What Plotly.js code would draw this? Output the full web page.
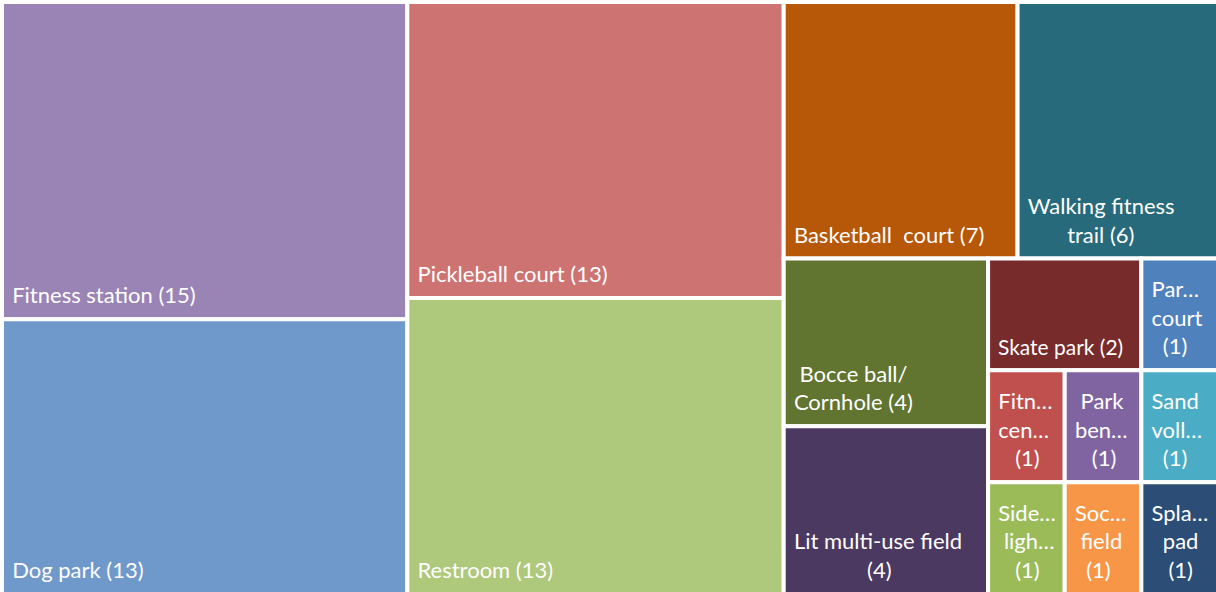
<!DOCTYPE html>
<html>
<head>
<meta charset="utf-8">
<script src="https://cdn.plot.ly/plotly-3.0.1.min.js"></script>
<style>html,body{margin:0;padding:0;background:#fff;overflow:hidden}#chart{width:1216px;height:592px;overflow:hidden}</style>
</head>
<body>
<div id="chart"></div>
<script>
// Amenity names (full), the wording shown in each tile (lines), and counts
const names = ["Fitness station", "Dog park", "Pickleball court", "Restroom", "Basketball court",
  "Walking fitness trail", "Bocce ball/Cornhole", "Lit multi-use field", "Skate park",
  "Parkour court", "Fitness center", "Sidewalk lighting", "Park bench", "Sand volleyball",
  "Soccer field", "Splash pad"];
const shownLines = [["Fitness station"], ["Dog park"], ["Pickleball court"], ["Restroom"], ["Basketball\u00a0 court"],
  ["Walking fitness", "trail"], ["Bocce ball/", "Cornhole"], ["Lit multi-use field", ""], ["Skate park"],
  ["Par\u2026", "court", ""], ["Fitn\u2026", "cen\u2026", ""], ["Side\u2026", "ligh\u2026", ""], ["Park", "ben\u2026", ""],
  ["Sand", "voll\u2026", ""], ["Soc\u2026", "field", ""], ["Spla\u2026", "pad", ""]];
const counts = [15, 13, 13, 13, 7, 6, 4, 4, 2, 1, 1, 1, 1, 1, 1, 1];
const colors = ["#9A84B6", "#7099CB", "#CD7371", "#AEC87C", "#B75708", "#276A7B", "#617530", "#4B3961",
  "#772B2B", "#4F81BD", "#C0504D", "#9BBB59", "#8064A2", "#4BACC6", "#F79646", "#2C4D75"];

const FONT = "Lato";
const FS = 22;
const ctx = document.createElement("canvas").getContext("2d");
ctx.font = FS + "px " + FONT;
const NB = "\u00a0";
const nbW = ctx.measureText(NB).width || FS * 0.193;

// build label text: append count to last line, centre lines within the block, pad left and bottom
const texts = shownLines.map((ls, i) => {
  const lines = ls.slice();
  const last = lines.length - 1;
  lines[last] = (lines[last] ? lines[last] + " " : "") + "(" + counts[i] + ")";
  const widths = lines.map(l => ctx.measureText(l).width);
  const maxW = Math.max.apply(null, widths);
  return lines.map((l, j) => {
    const n = Math.round((maxW - widths[j]) / 2 / nbW);
    let s = '<span style="font-size:28px">' + NB + '</span>' + NB.repeat(n) + l;
    if (j === last) s += '<span style="font-size:62px">' + NB + '</span>';
    return s;
  }).join("<br>");
});

const trace = {
  type: "treemap",
  labels: names,
  parents: names.map(() => ""),
  values: counts,
  text: texts,
  texttemplate: "%{text}",
  textposition: "bottom left",
  textfont: {family: FONT + ", 'Open Sans', sans-serif", size: FS, color: "#ffffff"},
  marker: {colors: colors, line: {width: 4, color: "#ffffff"}, pad: {t: 0, l: 0, r: 0, b: 0}},
  tiling: {packing: "squarify", squarifyratio: 1, pad: 0},
  pathbar: {visible: false},
  domain: {x: [0, 1], y: [0, 1]},
  sort: true,
  hoverinfo: "label+value"
};

Plotly.newPlot("chart", [trace], {
  width: 1218, height: 594,
  margin: {l: 2, r: 0, t: 2, b: 0},
  paper_bgcolor: "#ffffff",
  uniformtext: {mode: false}
}, {displayModeBar: false, staticPlot: true});
</script>
</body>
</html>
